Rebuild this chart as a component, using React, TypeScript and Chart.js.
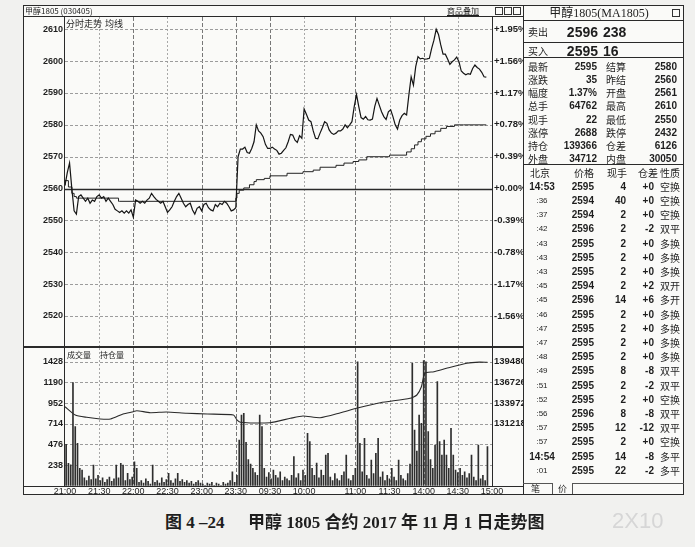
import React, { useEffect, useRef } from 'react';
import { Chart, registerables } from 'chart.js';

Chart.register(...registerables);

// ===================== DATA =====================
// price, one value every 2 minutes of trading time (minute index = 2 * i)
const priceValues: number[] = [
  2561, 2565, 2568, 2560, 2553, 2552, 2557.5, 2558, 2557, 2556,
  2557, 2555.4, 2556.4, 2556, 2557.5, 2558, 2557, 2557.5, 2556, 2557,
  2556, 2555, 2553.5, 2553, 2552.5, 2553, 2552.3, 2553, 2552.3, 2553.3,
  2551, 2556.4, 2556, 2555.4, 2556, 2555.4, 2556.4, 2557, 2558.5, 2557.5,
  2556.6, 2556, 2555.4, 2556, 2554.3, 2552.5, 2553.3, 2554.3, 2556, 2557.5,
  2558.5, 2557, 2555.4, 2554.3, 2555, 2555.4, 2553.3, 2552, 2553.8, 2554.3,
  2553, 2555, 2555.4, 2554, 2553.3, 2553, 2555, 2554.3, 2555.4, 2555,
  2556, 2555.4, 2554.3, 2553, 2553.3, 2554,
  2570, 2572.4, 2572.4, 2573,
  2571.3, 2571.1, 2572.6, 2574.7, 2580, 2578.1, 2577.4, 2576.3, 2573.9, 2572.6,
  2572.6, 2573, 2572.4, 2572, 2570.8, 2571.1, 2572, 2572.8, 2574.7, 2577,
  2576.8, 2575.2, 2574.5, 2576.6, 2575.8, 2585, 2583.3, 2581.5, 2581, 2578.1,
  2575.8, 2575.6, 2577.4, 2579.1, 2581, 2580.5, 2578.4, 2577.4, 2577, 2577.4,
  2578.1, 2578.1, 2578.7, 2580, 2579.1, 2580, 2581, 2585.7, 2589.5, 2585.7,
  2582.3, 2581.8, 2582.6, 2581.6, 2581.5, 2581.8, 2585.7, 2588.3, 2586.2, 2584.1,
  2582.6, 2581.7, 2584.1, 2584.7, 2582.6, 2580, 2578.7, 2581.5, 2582.9, 2583.6,
  2583.1, 2589.4, 2595.1, 2592.5, 2598.3, 2601.4, 2600.7, 2600.9, 2600.6, 2600.7,
  2600.9, 2604, 2606.6, 2610, 2608.4, 2605.1, 2602.2, 2602.2, 2600.7, 2599,
  2599.8, 2600.4, 2601.3, 2599.8, 2596.9, 2596.2, 2595.7, 2596.1, 2595.9, 2597.7,
  2598.8, 2598, 2597.5, 2596.5, 2595.1, 2595,
];
const priceStepMinutes = 2;

// average price line (minute, value)
const avgMinutes = [0, 3, 6, 8, 10, 12, 47, 48, 150, 151, 153, 157, 162, 166, 168, 175, 180, 195, 209, 218, 224, 238, 245, 253, 258, 265, 285, 300, 304, 307, 310, 313, 317, 321, 325, 330, 335, 342, 350, 370];
const avgValues = [2561, 2562.5, 2560.5, 2558.5, 2557.5, 2557, 2557, 2556, 2556, 2557, 2558.5, 2559.5, 2560.2, 2561.2, 2562.2, 2562.8, 2563.2, 2564, 2564.8, 2565.3, 2565.8, 2566.7, 2567.3, 2568, 2568.5, 2569, 2570, 2570.5, 2571.5, 2572.5, 2573.7, 2574.7, 2575.6, 2576.4, 2577.2, 2578, 2578.9, 2579.5, 2580, 2580];

// volume, one bar per 2 minutes (bar centred at minute 2 * i + 1)
const volumeValues: number[] = [
  477, 258, 240, 1187, 680, 488, 200, 180, 90, 60,
  110, 70, 238, 80, 120, 60, 90, 40, 70, 100,
  50, 80, 238, 90, 258, 238, 60, 143, 70, 100,
  276, 200, 40, 60, 30, 80, 50, 20, 238, 40,
  60, 30, 90, 40, 70, 143, 60, 30, 80, 143,
  50, 70, 40, 60, 30, 50, 20, 40, 60, 30,
  20, 0, 30, 20, 40, 0, 30, 20, 0, 40,
  20, 30, 60, 161, 40, 120, 526, 814, 834, 500,
  300, 250, 200, 150, 120, 814, 680, 200, 100, 150,
  80, 180, 120, 90, 160, 60, 100, 80, 60, 120,
  334, 90, 140, 60, 180, 120, 603, 507, 200, 120,
  260, 90, 180, 120, 354, 373, 100, 60, 140, 80,
  60, 120, 160, 354, 80, 60, 120, 200, 1428, 488,
  160, 546, 120, 80, 296, 140, 373, 546, 100, 160,
  60, 120, 80, 200, 100, 60, 296, 120, 80, 60,
  140, 250, 1410, 642, 400, 814, 719, 1440, 1428, 622,
  300, 200, 469, 1198, 507, 354, 526, 354, 200, 661,
  354, 180, 150, 200, 120, 160, 90, 140, 354, 100,
  60, 469, 80, 120, 60, 450,
];

// open interest (minute, value)
const oiMinutes = [0, 9, 19, 31, 40, 51, 60, 63, 75, 89, 107, 125, 148, 151, 154, 180, 198, 209, 224, 242, 256, 277, 303, 309, 313, 316, 324, 335, 353, 364, 371];
const oiValues = [133486, 132380, 132074, 131848, 131848, 132514, 132820, 132953, 132687, 132780, 132607, 132514, 132380, 131715, 131420, 131355, 131940, 132248, 132020, 132687, 133273, 134019, 134605, 135044, 136150, 137935, 138148, 138600, 139267, 139420, 139400];

const timeTickMinutes = [0, 30, 60, 90, 120, 150, 180, 210, 255, 285, 315, 345, 375];
const timeTickLabels = ['21:00', '21:30', '22:00', '22:30', '23:00', '23:30', '09:30', '10:00', '11:00', '11:30', '14:00', '14:30', '15:00'];
const priceTicks = [2520, 2530, 2540, 2550, 2560, 2570, 2580, 2590, 2600, 2610];
const prevSettle = 2560;
const volumeTicks = [238, 476, 714, 952, 1190, 1428];
const oiTicks = [131218, 133972, 136726, 139480];

const quoteLeftLabels = ['最新', '涨跌', '幅度', '总手', '现手', '涨停', '持仓', '外盘'];
const quoteLeftValues = ['2595', '35', '1.37%', '64762', '22', '2688', '139366', '34712'];
const quoteRightLabels = ['结算', '昨结', '开盘', '最高', '最低', '跌停', '仓差', '内盘'];
const quoteRightValues = ['2580', '2560', '2561', '2610', '2550', '2432', '6126', '30050'];

const tradeHeaders = ['北京', '价格', '现手', '仓差', '性质'];
const tradeTimes = ['14:53', ':36', ':37', ':42', ':43', ':43', ':43', ':45', ':45', ':46', ':47', ':47', ':48', ':49', ':51', ':52', ':56', ':57', ':57', '14:54', ':01'];
const tradePrices = [2595, 2594, 2594, 2596, 2595, 2595, 2595, 2594, 2596, 2595, 2595, 2595, 2595, 2595, 2595, 2595, 2596, 2595, 2595, 2595, 2595];
const tradeVolumes = [4, 40, 2, 2, 2, 2, 2, 2, 14, 2, 2, 2, 2, 8, 2, 2, 8, 12, 2, 14, 22];
const tradeOiChanges = ['+0', '+0', '+0', '-2', '+0', '+0', '+0', '+2', '+6', '+0', '+0', '+0', '+0', '-8', '-2', '+0', '-8', '-12', '+0', '-8', '-2'];
const tradeNatures = ['空换', '空换', '空换', '双平', '多换', '多换', '多换', '双开', '多开', '多换', '多换', '多换', '多换', '双平', '双平', '空换', '双平', '双平', '空换', '多平', '多平'];

// ===================== STYLE =====================
const NUM = "'Liberation Sans', Arial, sans-serif";
const NARROW = "'Liberation Sans Narrow', 'Liberation Sans', Arial, sans-serif";
const CJK = "'Noto Sans CJK SC', sans-serif";
const INK = '#1e1e1e';
const DARK_TIME = [60, 120, 150, 180, 255, 315];

function makeGridPlugin(hValues: number[], solidValue: number | null, yId: string) {
  return {
    id: 'customGrid',
    beforeDatasetsDraw(chart: any) {
      const { ctx, chartArea } = chart;
      const { top, bottom, left, right } = chartArea;
      const xs = chart.scales.x;
      const ys = chart.scales[yId];
      ctx.save();
      timeTickMinutes.forEach((m) => {
        if (m === timeTickMinutes[0] || m === timeTickMinutes[timeTickMinutes.length - 1]) return;
        const x = Math.round(xs.getPixelForValue(m)) + 0.5;
        const dark = DARK_TIME.includes(m);
        ctx.strokeStyle = dark ? '#777' : '#a8a8a8';
        ctx.lineWidth = 1;
        ctx.setLineDash(dark ? [4, 2] : [2, 2]);
        ctx.beginPath();
        ctx.moveTo(x, top);
        ctx.lineTo(x, bottom);
        ctx.stroke();
      });
      hValues.forEach((v) => {
        const y = Math.round(ys.getPixelForValue(v)) + 0.5;
        if (v === solidValue) {
          ctx.setLineDash([]);
          ctx.strokeStyle = '#2a2a2a';
          ctx.lineWidth = 1.6;
        } else {
          ctx.setLineDash([3, 2]);
          ctx.strokeStyle = '#9c9c9c';
          ctx.lineWidth = 1;
        }
        ctx.beginPath();
        ctx.moveTo(left, y);
        ctx.lineTo(right, y);
        ctx.stroke();
      });
      ctx.restore();
    },
  };
}

const fixAxis = (w: number) => (s: any) => {
  s.width = w;
  s.paddingTop = 0;
  s.paddingBottom = 0;
};

const plain = (v: any) => String(v);

function PriceChart() {
  const ref = useRef<HTMLCanvasElement>(null);
  useEffect(() => {
    const tickFont = { family: NUM, size: 9, weight: 'bold' as const };
    const chart = new Chart(ref.current as HTMLCanvasElement, {
      type: 'line',
      data: {
        datasets: [
          {
            data: priceValues.map((v, i) => ({ x: i * priceStepMinutes, y: v })),
            borderColor: '#151515',
            borderWidth: 1.2,
            pointRadius: 0,
            tension: 0,
          },
          {
            data: avgMinutes.map((m, i) => ({ x: m, y: avgValues[i] })),
            borderColor: '#222',
            borderWidth: 1,
            pointRadius: 0,
            stepped: 'after',
          },
        ],
      },
      options: {
        animation: false,
        responsive: false,
        maintainAspectRatio: false,
        layout: { padding: 0 },
        plugins: { legend: { display: false }, tooltip: { enabled: false } },
        scales: {
          x: { type: 'linear', min: 0, max: 375, display: false },
          y: {
            position: 'left',
            min: 2510.27,
            max: 2613.86,
            afterBuildTicks: (s: any) => { s.ticks = priceTicks.map((v) => ({ value: v })); },
            afterFit: fixAxis(41),
            grid: { display: false, drawTicks: false },
            border: { display: false },
            ticks: { font: tickFont, color: INK, padding: 2, autoSkip: false, callback: plain },
          },
          y2: {
            position: 'right',
            min: 2510.27,
            max: 2613.86,
            afterBuildTicks: (s: any) => { s.ticks = priceTicks.map((v) => ({ value: v })); },
            afterFit: fixAxis(31),
            grid: { display: false, drawTicks: false },
            border: { display: false },
            ticks: {
              font: { family: NARROW, size: 9.5, weight: 'bold' },
              color: INK,
              padding: 2,
              autoSkip: false,
              callback: (v: any) => {
                const p = ((Number(v) - prevSettle) / prevSettle) * 100;
                return (p >= 0 ? '+' : '') + p.toFixed(2) + '%';
              },
            },
          },
        },
      },
      plugins: [makeGridPlugin(priceTicks, prevSettle, 'y')],
    } as any);
    return () => chart.destroy();
  }, []);
  return (
    <canvas
      ref={ref}
      width={499}
      height={330}
      style={{ position: 'absolute', left: 24, top: 17, width: 499, height: 330 }}
    />
  );
}

function VolumeChart() {
  const ref = useRef<HTMLCanvasElement>(null);
  useEffect(() => {
    const tickFont = { family: NUM, size: 9, weight: 'bold' as const };
    const chart = new Chart(ref.current as HTMLCanvasElement, {
      type: 'bar',
      data: {
        datasets: [
          {
            type: 'line',
            data: oiMinutes.map((m, i) => ({ x: m, y: oiValues[i] })),
            yAxisID: 'y2',
            borderColor: '#2a2a2a',
            borderWidth: 1.1,
            pointRadius: 0,
            tension: 0.2,
          },
          {
            type: 'bar',
            data: volumeValues.map((v, i) => ({ x: i * priceStepMinutes + 1, y: v })),
            yAxisID: 'y',
            backgroundColor: '#2e2e2e',
            barThickness: 1,
          },
        ],
      },
      options: {
        animation: false,
        responsive: false,
        maintainAspectRatio: false,
        layout: { padding: 0 },
        plugins: { legend: { display: false }, tooltip: { enabled: false } },
        scales: {
          x: {
            type: 'linear',
            min: 0,
            max: 375,
            offset: false,
            afterBuildTicks: (s: any) => { s.ticks = timeTickMinutes.map((v) => ({ value: v })); },
            afterFit: (s: any) => { s.height = 9.3; s.paddingLeft = 0; s.paddingRight = 0; },
            grid: { display: false, drawTicks: false },
            border: { display: false },
            ticks: {
              font: { family: NUM, size: 9 },
              color: INK,
              padding: 0,
              autoSkip: false,
              maxRotation: 0,
              callback: (v: any) => {
                const k = timeTickMinutes.indexOf(Number(v));
                return k >= 0 ? timeTickLabels[k] : '';
              },
            },
          },
          y: {
            position: 'left',
            min: 0,
            max: 1586,
            afterBuildTicks: (s: any) => { s.ticks = volumeTicks.map((v) => ({ value: v })); },
            afterFit: fixAxis(41),
            grid: { display: false, drawTicks: false },
            border: { display: false },
            ticks: { font: tickFont, color: INK, padding: 2, autoSkip: false, callback: plain },
          },
          y2: {
            position: 'right',
            min: 122956,
            max: 141308,
            afterBuildTicks: (s: any) => { s.ticks = oiTicks.map((v) => ({ value: v })); },
            afterFit: fixAxis(31),
            grid: { display: false, drawTicks: false },
            border: { display: false },
            ticks: { font: { family: NARROW, size: 9.5, weight: 'bold' }, color: INK, padding: 2, autoSkip: false, callback: plain },
          },
        },
      },
      plugins: [makeGridPlugin(volumeTicks, null, 'y')],
    } as any);
    return () => chart.destroy();
  }, []);
  return (
    <canvas
      ref={ref}
      width={499}
      height={147}
      style={{ position: 'absolute', left: 24, top: 348, width: 499, height: 147 }}
    />
  );
}

type TProps = {
  x: number;
  y: number;
  children: React.ReactNode;
  size?: number;
  weight?: number | string;
  align?: 'left' | 'right' | 'center';
  family?: string;
  color?: string;
  style?: React.CSSProperties;
};

function T({ x, y, children, size = 10, weight = 400, align = 'left', family = CJK, color = INK, style }: TProps) {
  const w = 400;
  const left = align === 'left' ? x : align === 'right' ? x - w : x - w / 2;
  return (
    <div
      style={{
        position: 'absolute',
        left,
        top: y - size,
        width: w,
        height: size * 2,
        lineHeight: `${size * 2}px`,
        fontSize: size,
        fontWeight: weight as any,
        fontFamily: family,
        color,
        textAlign: align,
        whiteSpace: 'nowrap',
        ...style,
      }}
    >
      {children}
    </div>
  );
}

function HL({ x1, x2, y, h = 1, c = '#2a2a2a' }: { x1: number; x2: number; y: number; h?: number; c?: string }) {
  return <div style={{ position: 'absolute', left: x1, top: y, width: x2 - x1, height: h, background: c }} />;
}
function VL({ x, y1, y2, w = 1, c = '#2a2a2a' }: { x: number; y1: number; y2: number; w?: number; c?: string }) {
  return <div style={{ position: 'absolute', left: x, top: y1, width: w, height: y2 - y1, background: c }} />;
}
function Box({ x, y, w, h }: { x: number; y: number; w: number; h: number }) {
  return <div style={{ position: 'absolute', left: x, top: y, width: w, height: h, border: '1px solid #333', boxSizing: 'border-box' }} />;
}

export default function App() {
  const quoteRowY = (k: number) => 66.7 + k * 13.2;
  const tradeRowY = (k: number) => 186.7 + k * 14.2;
  return (
    <div style={{ position: 'absolute', left: 0, top: 0, width: 695, height: 547, background: '#f1f1ef', overflow: 'hidden' }}>
      {/* frame */}
      <div style={{ position: 'absolute', left: 23, top: 5, width: 661, height: 490, background: '#fafaf8', border: '1px solid #2a2a2a', boxSizing: 'border-box' }} />
      <PriceChart />
      <VolumeChart />

      {/* structural lines */}
      <HL x1={23} x2={523} y={16} />
      <VL x={523} y1={5} y2={495} />
      <HL x1={23} x2={523} y={346} h={2} />
      <HL x1={23} x2={523} y={486} />
      <VL x={64} y1={16} y2={487} />
      <VL x={492} y1={16} y2={487} />

      {/* title bar */}
      <T x={25} y={11} size={8} family={"'Liberation Sans Narrow', 'Noto Sans CJK SC', sans-serif"}>甲醇1805 (030405)</T>
      <T x={447} y={11} size={8} style={{ textDecoration: 'underline' }}>商品叠加</T>
      <Box x={495} y={7} w={8} h={8} />
      <Box x={504} y={7} w={8} h={8} />
      <Box x={513} y={7} w={8} h={8} />

      {/* panel headers */}
      <T x={66} y={23.5} size={9}>分时走势</T>
      <T x={105} y={23.5} size={9}>均线</T>
      <T x={67} y={355} size={8}>成交量</T>
      <T x={100} y={355} size={8}>持仓量</T>

      {/* right quote panel */}
      <T x={599} y={13} size={12} align="center" family={"'Liberation Serif', 'Noto Sans CJK SC', serif"}>甲醇1805(MA1805)</T>
      <Box x={672} y={9} w={8} h={8} />
      <HL x1={523} x2={684} y={20} />
      <HL x1={523} x2={684} y={42} />
      <HL x1={523} x2={684} y={57} />
      <HL x1={523} x2={684} y={164} />

      <T x={528} y={32} size={10}>卖出</T>
      <T x={598} y={32} size={14} weight={700} align="right" family={NUM}>2596</T>
      <T x={603} y={32} size={14} weight={700} family={NUM}>238</T>
      <T x={528} y={50.5} size={10}>买入</T>
      <T x={598} y={50.5} size={14} weight={700} align="right" family={NUM}>2595</T>
      <T x={603} y={50.5} size={14} weight={700} family={NUM}>16</T>

      {quoteLeftLabels.map((l, k) => (
        <React.Fragment key={'q' + k}>
          <T x={528} y={quoteRowY(k)} size={10}>{l}</T>
          <T x={597} y={quoteRowY(k)} size={10} weight={700} align="right" family={NUM}>{quoteLeftValues[k]}</T>
          <T x={606} y={quoteRowY(k)} size={10}>{quoteRightLabels[k]}</T>
          <T x={677} y={quoteRowY(k)} size={10} weight={700} align="right" family={NUM}>{quoteRightValues[k]}</T>
        </React.Fragment>
      ))}

      <T x={530} y={173} size={10}>{tradeHeaders[0]}</T>
      <T x={594} y={173} size={10} align="right">{tradeHeaders[1]}</T>
      <T x={627} y={173} size={10} align="right">{tradeHeaders[2]}</T>
      <T x={658} y={173} size={10} align="right">{tradeHeaders[3]}</T>
      <T x={660} y={173} size={10}>{tradeHeaders[4]}</T>

      {tradeTimes.map((t, k) => (
        <React.Fragment key={'t' + k}>
          <T x={542} y={tradeRowY(k)} size={t.length > 3 ? 10 : 8} weight={t.length > 3 ? 700 : 400} align="center" family={NUM}>{t}</T>
          <T x={594} y={tradeRowY(k)} size={10} weight={700} align="right" family={NUM}>{tradePrices[k]}</T>
          <T x={626} y={tradeRowY(k)} size={10} weight={700} align="right" family={NUM}>{tradeVolumes[k]}</T>
          <T x={654} y={tradeRowY(k)} size={10} weight={700} align="right" family={NUM}>{tradeOiChanges[k]}</T>
          <T x={660} y={tradeRowY(k)} size={10}>{tradeNatures[k]}</T>
        </React.Fragment>
      ))}

      {/* tabs */}
      <HL x1={523} x2={552} y={483} c="#555" />
      <HL x1={573} x2={684} y={483} c="#555" />
      <div style={{ position: 'absolute', left: 552, top: 483, width: 21, height: 11, borderLeft: '1px solid #555', borderRight: '1px solid #555', boxSizing: 'border-box' }} />
      <T x={531} y={489} size={9}>笔</T>
      <T x={558} y={489} size={9}>价</T>

      {/* caption */}
      <T x={165} y={523} size={17} weight={700} family={"'Liberation Serif', 'Noto Sans CJK SC', serif"}>图 4 –24</T>
      <T x={248} y={523} size={17} weight={700} family={"'Liberation Serif', 'Noto Sans CJK SC', serif"}>甲醇 1805 合约 2017 年 11 月 1 日走势图</T>
      <T x={612} y={521} size={22} weight={300} color="#d6d6d6" family={NUM}>2X10</T>
    </div>
  );
}
